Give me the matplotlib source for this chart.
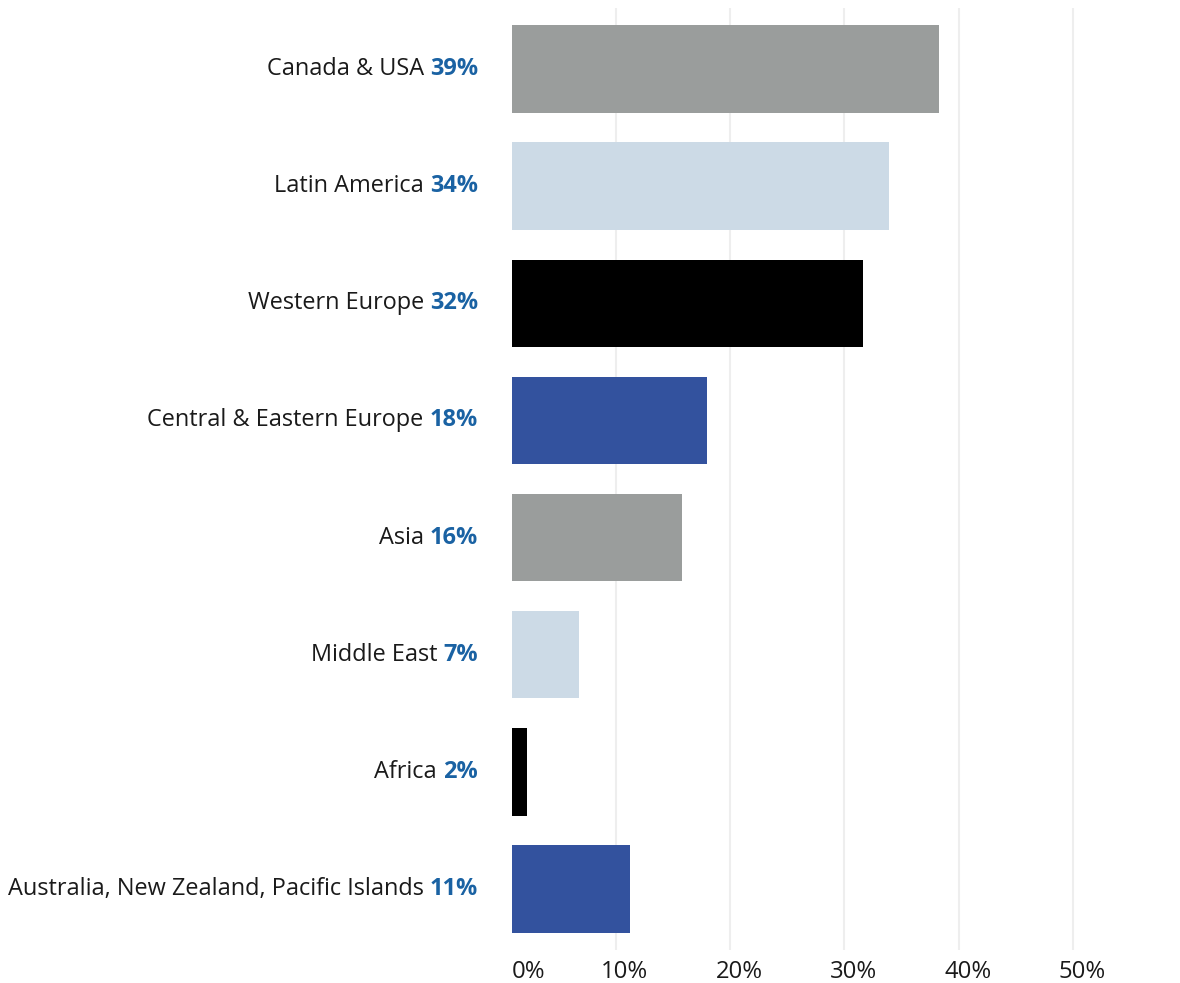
import matplotlib
matplotlib.use("Agg")
import matplotlib.pyplot as plt
import matplotlib.transforms as mtransforms

# ---- data ----
categories = ["Canada & USA", "Latin America", "Western Europe",
              "Central & Eastern Europe", "Asia", "Middle East", "Africa",
              "Australia, New Zealand, Pacific Islands"]
pct_labels = ["39%", "34%", "32%", "18%", "16%", "7%", "2%", "11%"]
bar_values = [38.3, 33.9, 31.6, 18.0, 15.8, 6.8, 2.2, 11.2]
bar_colors = ["#9a9d9c", "#ccdae6", "#000000", "#33529e",
              "#9a9d9c", "#ccdae6", "#000000", "#33529e"]
xticks = [0, 10, 20, 30, 40, 50]
xtick_labels = ["0%", "10%", "20%", "30%", "40%", "50%"]

FONT = ["Open Sans", "DejaVu Sans"]
plt.rcParams["font.family"] = FONT
FS = 16.9
TFS = 17.2

fig = plt.figure(figsize=(11.8, 9.83), dpi=100)
ax = fig.add_axes([512/1180, 33/983, 668/1180, 942/983])

y = list(range(len(categories)))
ax.barh(y, bar_values, height=0.745, color=bar_colors, zorder=3)
ax.set_ylim(7.52, -0.52)
ax.set_xlim(0.9, 59.37)

for t in xticks[1:]:
    ax.axvline(t, color="#eeeeee", lw=1.5, zorder=1)

for s in ax.spines.values():
    s.set_visible(False)
ax.set_xticks([])
ax.set_yticks([])

# x tick labels
btrans = mtransforms.blended_transform_factory(ax.transData, ax.transAxes)
for t, lab in zip(xticks, xtick_labels):
    if t == 0:
        ax.text(0, -0.023, lab, transform=ax.transAxes, ha="left", va="center",
                fontsize=TFS, color="#1a1a1a")
    else:
        tr = mtransforms.offset_copy(btrans, fig=fig, x=9, y=0, units="dots")
        ax.text(t, -0.023, lab, transform=tr, ha="center", va="center",
                fontsize=TFS, color="#1a1a1a")

# category labels
ltrans = mtransforms.blended_transform_factory(ax.transAxes, ax.transData)
ltrans = mtransforms.offset_copy(ltrans, fig=fig, x=-34, y=0, units="dots")
for yi, name, pl in zip(y, categories, pct_labels):
    pt = ax.text(0, yi, pl, transform=ltrans, ha="right", va="center",
                 fontsize=FS, fontweight="bold", color="#1a62a3")
    ax.annotate(name + " ", xy=(0, 0.5), xycoords=pt, ha="right", va="center",
                fontsize=FS, color="#1a1a1a", annotation_clip=False)

fig.savefig("out.png", dpi=100)
